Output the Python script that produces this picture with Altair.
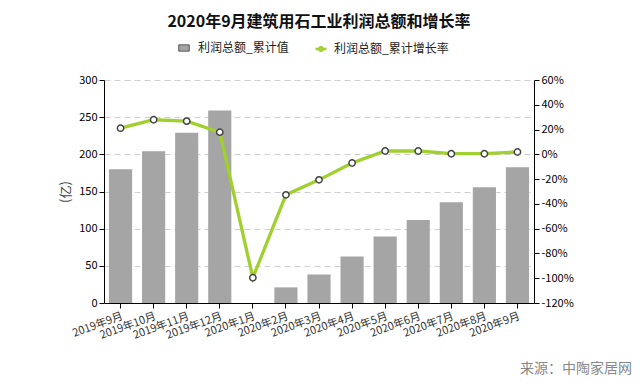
import altair as alt
import pandas as pd

months = ["2019年9月", "2019年10月", "2019年11月", "2019年12月", "2020年1月", "2020年2月",
          "2020年3月", "2020年4月", "2020年5月", "2020年6月", "2020年7月", "2020年8月", "2020年9月"]
profit = [180, 204, 229, 259, None, 21, 38.5, 62.6, 89.5, 111.5, 135.7, 155.8, 182.7]
growth = [21.1, 27.9, 26.8, 17.9, -99.6, -32.7, -20.6, -7.0, 2.7, 2.7, 0.5, 0.5, 1.9]

bar_name = "利润总额_累计值"
line_name = "利润总额_累计增长率"

df = pd.DataFrame({"month": months, "profit": profit, "growth": growth})

FONT = "Noto Sans CJK SC"

x_enc = alt.X("month:N", sort=months, title=None,
              scale=alt.Scale(paddingInner=0.3, paddingOuter=0.15),
              axis=alt.Axis(labelAngle=-20, labelFontSize=11, labelColor="#333",
                            domainColor="#000", tickColor="#000", tickSize=5,
                            labelPadding=2))

bars = alt.Chart(df).mark_bar(color="#a5a5a5").encode(
    x=x_enc,
    y=alt.Y("profit:Q", title="(亿)",
            scale=alt.Scale(domain=[0, 300], nice=False),
            axis=alt.Axis(values=[0, 50, 100, 150, 200, 250, 300], grid=True,
                          gridDash=[6, 4], gridColor="#cfcfcf", domainColor="#000",
                          tickColor="#000", tickSize=5, labelFontSize=11,
                          labelColor="#000", titleFontSize=13, titleColor="#444",
                          titleFontWeight="normal", titlePadding=6)),
    fill=alt.Fill("series:N",
                  scale=alt.Scale(domain=[bar_name], range=["#a5a5a5"]),
                  legend=alt.Legend(title=None, orient="none", legendX=74, legendY=-38,
                                    symbolType="M-1,-0.6H1V0.6H-1Z", symbolSize=110,
                                    symbolStrokeColor="#555", symbolStrokeWidth=1,
                                    labelOffset=8,
                                    labelFontSize=12, labelFont=FONT, labelColor="#222")),
).transform_calculate(series=f"'{bar_name}'")

right_axis = alt.Axis(orient="right", values=list(range(-120, 61, 20)),
                      labelExpr="datum.value + '%'", grid=False,
                      domainColor="#000", tickColor="#000", tickSize=5,
                      labelFontSize=11, labelColor="#000")
right_scale = alt.Scale(domain=[-120, 60], nice=False)

line = alt.Chart(df).mark_line(strokeWidth=3.3).encode(
    x=alt.X("month:N", sort=months),
    y=alt.Y("growth:Q", title=None, scale=right_scale, axis=right_axis),
    stroke=alt.Stroke("series:N",
                      scale=alt.Scale(domain=[line_name], range=["#9fd02e"]),
                      legend=alt.Legend(title=None, orient="none", legendX=210, legendY=-38,
                                        symbolType="M-1,0H-0.35M0.35,0H1M0.3,0A0.3,0.3 0 1,1 -0.3,0A0.3,0.3 0 1,1 0.3,0",
                                        symbolSize=120, symbolStrokeWidth=2.5, labelOffset=6,
                                        labelFontSize=12, labelFont=FONT, labelColor="#222")),
).transform_calculate(series=f"'{line_name}'")

points = alt.Chart(df).mark_point(filled=True, fill="white", stroke="#444",
                                  strokeWidth=1.5, size=40, opacity=1).encode(
    x=alt.X("month:N", sort=months),
    y=alt.Y("growth:Q", title=None, scale=right_scale, axis=right_axis),
)

source = alt.Chart(pd.DataFrame({"t": ["来源：中陶家居网"]})).mark_text(
    align="right", baseline="middle", fontSize=14, color="#888", font=FONT
).encode(text="t:N", x=alt.value(528), y=alt.value(289))

right_layer = alt.layer(line, points, source)

chart = alt.layer(bars, right_layer).resolve_scale(y="independent").resolve_axis(y="independent").properties(
    width=430, height=223,
    autosize=alt.AutoSizeParams(type="none"),
    padding={"left": 96, "top": 72, "right": 98, "bottom": 81},
    title=alt.Title("2020年9月建筑用石工业利润总额和增长率", fontSize=16, fontWeight="bold",
                    font=FONT, color="#111", anchor="middle", frame="group", offset=12),
).configure(font=FONT).configure_view(stroke=None)

chart.save("out.html", embed_options={"renderer": "svg", "actions": False})
